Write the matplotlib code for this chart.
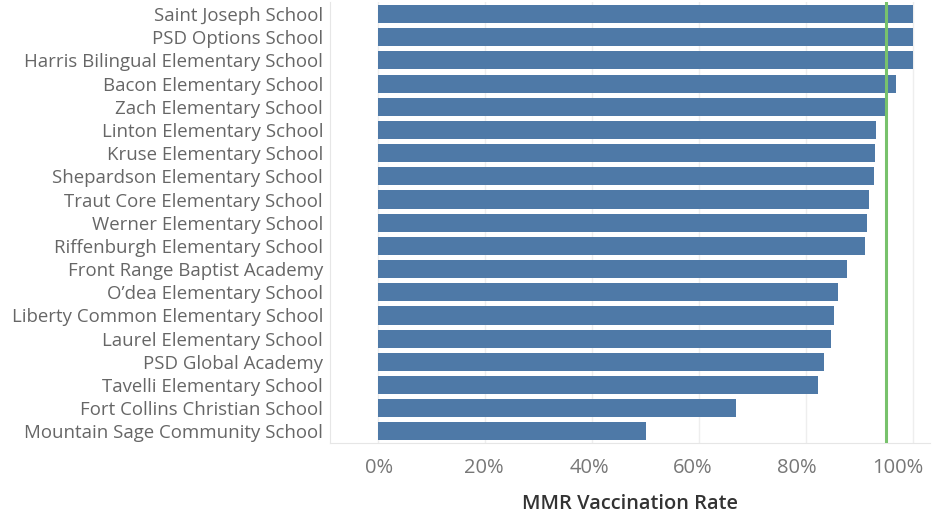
import matplotlib
matplotlib.use("Agg")
import matplotlib.pyplot as plt
import matplotlib.transforms as mtransforms
from matplotlib.ticker import FixedLocator, FuncFormatter

schools = [
    "Saint Joseph School",
    "PSD Options School",
    "Harris Bilingual Elementary School",
    "Bacon Elementary School",
    "Zach Elementary School",
    "Linton Elementary School",
    "Kruse Elementary School",
    "Shepardson Elementary School",
    "Traut Core Elementary School",
    "Werner Elementary School",
    "Riffenburgh Elementary School",
    "Front Range Baptist Academy",
    "O\u2019dea Elementary School",
    "Liberty Common Elementary School",
    "Laurel Elementary School",
    "PSD Global Academy",
    "Tavelli Elementary School",
    "Fort Collins Christian School",
    "Mountain Sage Community School",
]
mmr_rate = [1.00, 1.00, 1.00, 0.968, 0.948, 0.931, 0.929, 0.927, 0.918, 0.914,
            0.910, 0.877, 0.860, 0.852, 0.847, 0.834, 0.822, 0.669, 0.501]
target_rate = 0.95
x_ticks = [0.0, 0.2, 0.4, 0.6, 0.8, 1.0]

plt.rcParams['font.family'] = ['Open Sans', 'DejaVu Sans']

fig = plt.figure(figsize=(9.4, 5.17), dpi=100)
ax = fig.add_axes([330/940, 1-443/517, 600/940, (443-2.4)/517])

y = list(range(len(schools)))
ax.barh(y, mmr_rate, height=0.78, color="#4e79a7", zorder=3)
ax.axvline(target_rate, color="#78c26c", lw=2.2, zorder=4)

ax.set_ylim(len(schools) - 0.5, -0.5)
ax.set_xlim(-0.09, 1.032)

ax.set_yticks(y)
ax.set_yticklabels(schools, fontsize=13.4, color="#666666")
ax.tick_params(axis='y', length=0, pad=5)

ax.xaxis.set_major_locator(FixedLocator(x_ticks))
ax.xaxis.set_major_formatter(FuncFormatter(lambda v, p: f"{v*100:.0f}%"))
ax.tick_params(axis='x', length=0, pad=11, labelsize=14.5, labelcolor="#777777")

# small horizontal shifts like the reference label placement
shifts = [1, -1, -3, -6, -9, -15]
for lab, dx in zip(ax.get_xticklabels(), shifts):
    lab.set_transform(lab.get_transform() + mtransforms.ScaledTranslation(dx/100, 0, fig.dpi_scale_trans))

ax.grid(axis='x', color="#eeeeee", lw=1, zorder=0)
ax.grid(axis='y', visible=False)
for s in ['top', 'right']:
    ax.spines[s].set_visible(False)
ax.spines['left'].set_color("#e6e6e6")
ax.spines['bottom'].set_color("#e6e6e6")

ax.set_xlabel("MMR Vaccination Rate", fontsize=14.4, color="#333333", labelpad=11, fontweight='semibold')

fig.savefig("out.png", dpi=100)
